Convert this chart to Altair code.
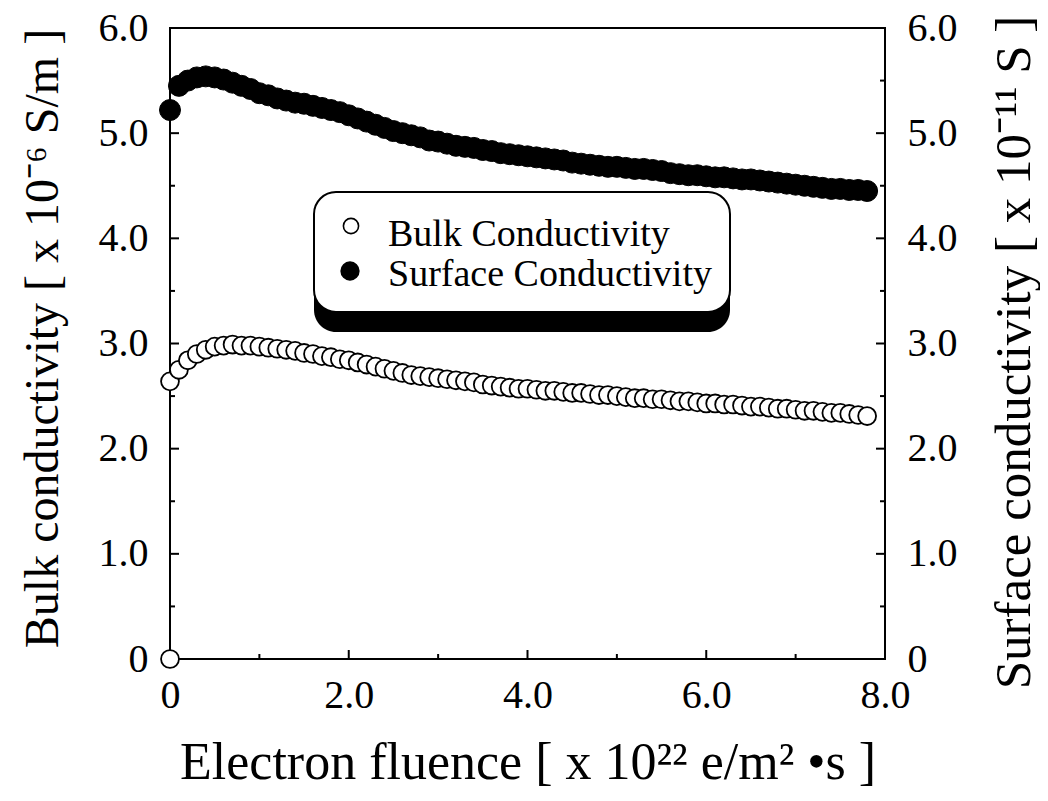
import altair as alt
import pandas as pd

# ---------------- data ----------------
fluence = [0.0, 0.1, 0.2, 0.3, 0.4, 0.5, 0.6, 0.7, 0.8, 0.9,
           1.0, 1.1, 1.2, 1.3, 1.4, 1.5, 1.6, 1.7, 1.8, 1.9,
           2.0, 2.1, 2.2, 2.3, 2.4, 2.5, 2.6, 2.7, 2.8, 2.9,
           3.0, 3.1, 3.2, 3.3, 3.4, 3.5, 3.6, 3.7, 3.8, 3.9,
           4.0, 4.1, 4.2, 4.3, 4.4, 4.5, 4.6, 4.7, 4.8, 4.9,
           5.0, 5.1, 5.2, 5.3, 5.4, 5.5, 5.6, 5.7, 5.8, 5.9,
           6.0, 6.1, 6.2, 6.3, 6.4, 6.5, 6.6, 6.7, 6.8, 6.9,
           7.0, 7.1, 7.2, 7.3, 7.4, 7.5, 7.6, 7.7, 7.8]

bulk = [2.64, 2.75, 2.84, 2.90, 2.94, 2.97, 2.98, 2.99, 2.98, 2.98,
        2.97, 2.96, 2.95, 2.94, 2.93, 2.91, 2.90, 2.88, 2.87, 2.85,
        2.84, 2.82, 2.80, 2.78, 2.76, 2.74, 2.72, 2.70, 2.69, 2.68,
        2.67, 2.66, 2.65, 2.64, 2.63, 2.61, 2.60, 2.59, 2.58, 2.57,
        2.57, 2.56, 2.55, 2.55, 2.54, 2.53, 2.53, 2.52, 2.51, 2.51,
        2.50, 2.49, 2.48, 2.48, 2.47, 2.47, 2.46, 2.45, 2.45, 2.44,
        2.43, 2.43, 2.42, 2.42, 2.41, 2.40, 2.40, 2.39, 2.38, 2.38,
        2.37, 2.36, 2.36, 2.35, 2.34, 2.34, 2.33, 2.32, 2.31]

surface = [5.22, 5.45, 5.50, 5.53, 5.54, 5.53, 5.51, 5.48, 5.45, 5.42,
           5.38, 5.36, 5.33, 5.31, 5.29, 5.28, 5.26, 5.24, 5.22, 5.20,
           5.17, 5.14, 5.11, 5.08, 5.05, 5.02, 5.00, 4.98, 4.96, 4.93,
           4.92, 4.90, 4.88, 4.87, 4.86, 4.84, 4.83, 4.81, 4.80, 4.79,
           4.78, 4.77, 4.76, 4.75, 4.74, 4.72, 4.71, 4.70, 4.69, 4.68,
           4.68, 4.67, 4.66, 4.66, 4.65, 4.64, 4.62, 4.61, 4.60, 4.60,
           4.59, 4.58, 4.58, 4.57, 4.56, 4.56, 4.55, 4.54, 4.53, 4.52,
           4.51, 4.50, 4.49, 4.48, 4.47, 4.47, 4.46, 4.46, 4.45]

# extra bulk point at the origin
bulk_origin_x = [0.0]
bulk_origin_y = [0.0]

series_names = ["Bulk Conductivity", "Surface Conductivity"]

x_major = [0, 2, 4, 6, 8]
x_minor = [1, 3, 5, 7]
y_major = [0, 1, 2, 3, 4, 5, 6]
y_minor = [0.5, 1.5, 2.5, 3.5, 4.5, 5.5]

x_title = "Electron fluence [ x 10²² e/m² •s ]"
yl_title = "Bulk conductivity [ x 10⁻⁶ S/m ]"
yr_title = "Surface conductivity [ x 10⁻¹¹ S ]"

# ---------------- layout ----------------
W, H = 715, 631
FONT = "Liberation Serif"
MAJ, MIN = 9, 5

bulk_df = pd.DataFrame({"x": bulk_origin_x + fluence, "y": bulk_origin_y + bulk})
surf_df = pd.DataFrame({"x": fluence, "y": surface})

xscale = alt.Scale(domain=[0, 8], nice=False, zero=False)
yscale = alt.Scale(domain=[0, 6], nice=False, zero=False)

label_expr = "datum.value == 0 ? '0' : format(datum.value, '.1f')"

x_axis = alt.Axis(values=x_major, ticks=False, tickSize=0, domain=False, grid=False,
                  labelExpr=label_expr, labelPadding=16, labelFont=FONT,
                  labelFontSize=40, labelColor="black", labelFlush=False,
                  title=x_title, titleFont=FONT, titleFontSize=52,
                  titleFontWeight="normal", titleColor="black",
                  titleX=W / 2, titleY=119, titleAlign="center",
                  titleBaseline="alphabetic")

yl_axis = alt.Axis(values=y_major, ticks=False, tickSize=0, domain=False, grid=False,
                   orient="left", labelExpr=label_expr, labelPadding=22,
                   labelFont=FONT, labelFontSize=40, labelColor="black",
                   labelFlush=False, labelBaseline="middle",
                   title=yl_title, titleFont=FONT, titleFontSize=48,
                   titleFontWeight="normal", titleColor="black", titleAngle=270,
                   titleX=-113, titleY=310, titleAlign="center",
                   titleBaseline="alphabetic")

yr_axis = alt.Axis(values=y_major, ticks=False, tickSize=0, domain=False, grid=False,
                   orient="right", labelExpr=label_expr, labelPadding=22,
                   labelFont=FONT, labelFontSize=40, labelColor="black",
                   labelFlush=False, labelBaseline="middle",
                   title=yr_title, titleFont=FONT, titleFontSize=51,
                   titleFontWeight="normal", titleColor="black", titleAngle=270,
                   titleX=144, titleY=324, titleAlign="center",
                   titleBaseline="alphabetic")

X = lambda: alt.X("x:Q", scale=xscale, axis=x_axis)
YL = lambda: alt.Y("y:Q", scale=yscale, axis=yl_axis)

one = pd.DataFrame({"d": [0]})

# ticks (inward)
xt_major = alt.Chart(pd.DataFrame({"x": x_major})).mark_rule(color="black", strokeWidth=2).encode(
    x=X(), y=alt.value(H), y2=alt.value(H - MAJ))
xt_minor = alt.Chart(pd.DataFrame({"x": x_minor})).mark_rule(color="black", strokeWidth=2).encode(
    x=X(), y=alt.value(H), y2=alt.value(H - MIN))
yl_major = alt.Chart(pd.DataFrame({"y": y_major})).mark_rule(color="black", strokeWidth=2).encode(
    y=YL(), x=alt.value(0), x2=alt.value(MAJ))
yl_minor = alt.Chart(pd.DataFrame({"y": y_minor})).mark_rule(color="black", strokeWidth=2).encode(
    y=YL(), x=alt.value(0), x2=alt.value(MIN))
yr_major = alt.Chart(pd.DataFrame({"y": y_major})).mark_rule(color="black", strokeWidth=2).encode(
    y=YL(), x=alt.value(W), x2=alt.value(W - MAJ))
yr_minor = alt.Chart(pd.DataFrame({"y": y_minor})).mark_rule(color="black", strokeWidth=2).encode(
    y=YL(), x=alt.value(W), x2=alt.value(W - MIN))

bulk_pts = alt.Chart(bulk_df).mark_point(shape="circle", filled=True, fill="white",
                                         stroke="black", strokeWidth=1.8, size=320,
                                         opacity=1).encode(x=X(), y=YL())

# legend box with drop shadow
shadow = alt.Chart(one).mark_rect(cornerRadius=22, color="black").encode(
    x=alt.value(144), x2=alt.value(560), y=alt.value(185), y2=alt.value(304))
box = alt.Chart(one).mark_rect(cornerRadius=22, fill="white", stroke="black",
                               strokeWidth=2).encode(
    x=alt.value(144), x2=alt.value(560), y=alt.value(164), y2=alt.value(284))
leg_open = alt.Chart(one).mark_point(shape="circle", filled=True, fill="white",
                                     stroke="black", strokeWidth=1.6, size=230,
                                     opacity=1).encode(x=alt.value(181), y=alt.value(198))
leg_fill = alt.Chart(one).mark_point(shape="circle", filled=True, fill="black",
                                     stroke="black", size=300, opacity=1).encode(
    x=alt.value(180), y=alt.value(243))
leg_t1 = alt.Chart(one).mark_text(align="left", baseline="alphabetic", font=FONT,
                                  fontSize=38, color="black").encode(
    x=alt.value(218), y=alt.value(218), text=alt.value(series_names[0]))
leg_t2 = alt.Chart(one).mark_text(align="left", baseline="alphabetic", font=FONT,
                                  fontSize=38, color="black").encode(
    x=alt.value(218), y=alt.value(258), text=alt.value(series_names[1]))

left = alt.layer(xt_major, xt_minor, yl_major, yl_minor, yr_major, yr_minor,
                 bulk_pts, shadow, box, leg_open, leg_fill, leg_t1, leg_t2)

surf_pts = alt.Chart(surf_df).mark_point(shape="circle", filled=True, fill="black",
                                         stroke="black", strokeWidth=1, size=440,
                                         opacity=1).encode(
    x=X(), y=alt.Y("y:Q", scale=yscale, axis=yr_axis))

chart = alt.layer(left, surf_pts).resolve_scale(y="independent").properties(
    width=W, height=H,
    autosize=alt.AutoSizeParams(type="none"),
    padding={"left": 162, "top": 20, "right": 155, "bottom": 129},
    background="white",
).configure_view(stroke="black", strokeWidth=2)

chart.save("out.html", embed_options={"renderer": "svg", "actions": False})
